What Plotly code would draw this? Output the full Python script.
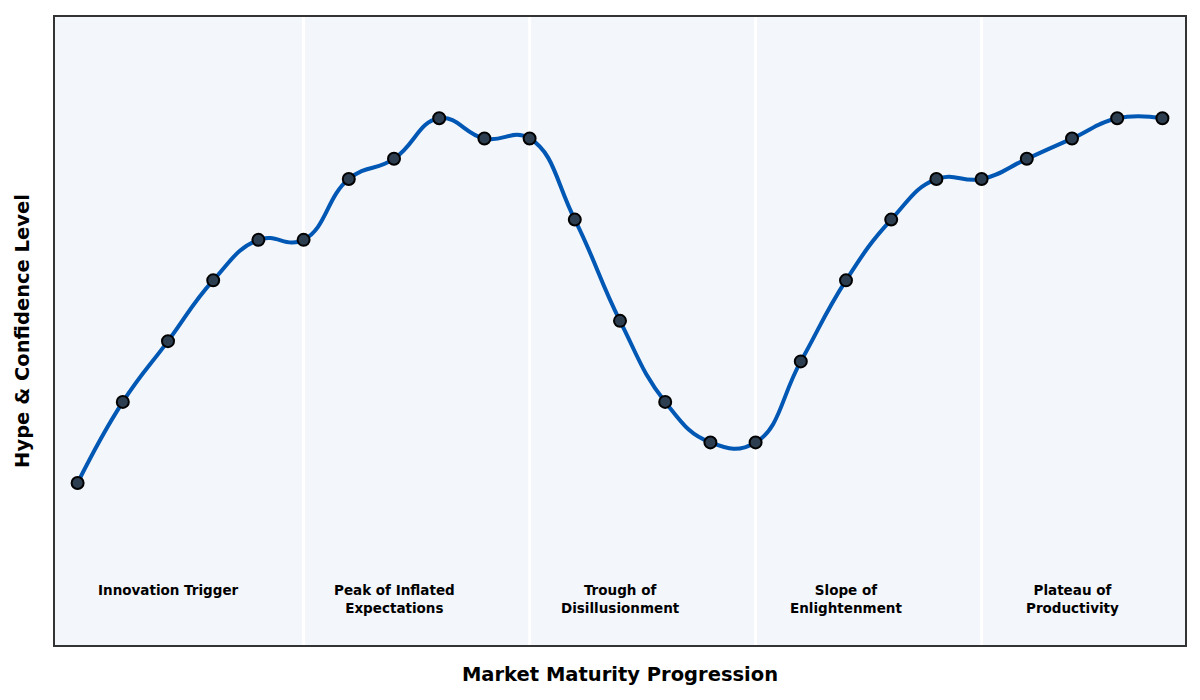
import plotly.graph_objects as go

# Hype cycle data
stage_idx = list(range(25))
hype_level = [10, 30, 45, 60, 70, 70, 85, 90, 100, 95, 95, 75, 50, 30, 20,
              20, 40, 60, 75, 85, 85, 90, 95, 100, 100]

phase_names = ["Innovation Trigger", "Peak of Inflated<br>Expectations",
               "Trough of<br>Disillusionment", "Slope of<br>Enlightenment",
               "Plateau of<br>Productivity"]
phase_centers = [2, 7, 12, 17, 22]
phase_breaks = [5, 10, 15, 20]

fig = go.Figure()

fig.add_trace(go.Scatter(
    x=stage_idx, y=hype_level,
    mode="lines+markers",
    line=dict(color="#0057b4", width=4, shape="spline", smoothing=1.3),
    marker=dict(size=12, color="#2c3e50", line=dict(color="black", width=2)),
    showlegend=False,
    hoverinfo="skip",
))

# white separators between phases
for b in phase_breaks:
    fig.add_vline(x=b, line=dict(color="white", width=3), layer="below")

for name, c in zip(phase_names, phase_centers):
    fig.add_annotation(x=c, y=-14, text="<b>" + name + "</b>", showarrow=False, yanchor="top",
                       font=dict(family="DejaVu Sans", size=13.5, color="black"))

fig.update_layout(
    width=1200, height=700,
    margin=dict(l=47, r=23, t=7, b=63),
    plot_bgcolor="#f3f6fa",
    paper_bgcolor="white",
    font=dict(family="DejaVu Sans", color="black"),
)
fig.update_xaxes(range=[-0.5, 24.5], showticklabels=False, showgrid=False, zeroline=False,
                 showline=True, linecolor="#333333", linewidth=2, mirror=True, ticks="",
                 title=dict(text="<b>Market Maturity Progression</b>", font=dict(size=19.5), standoff=21))
fig.update_yaxes(range=[-30, 125], showticklabels=False, showgrid=False, zeroline=False,
                 showline=True, linecolor="#333333", linewidth=2, mirror=True, ticks="",
                 title=dict(text="<b>Hype & Confidence Level</b>", font=dict(size=19.5), standoff=18))

fig.write_html("out.html")
